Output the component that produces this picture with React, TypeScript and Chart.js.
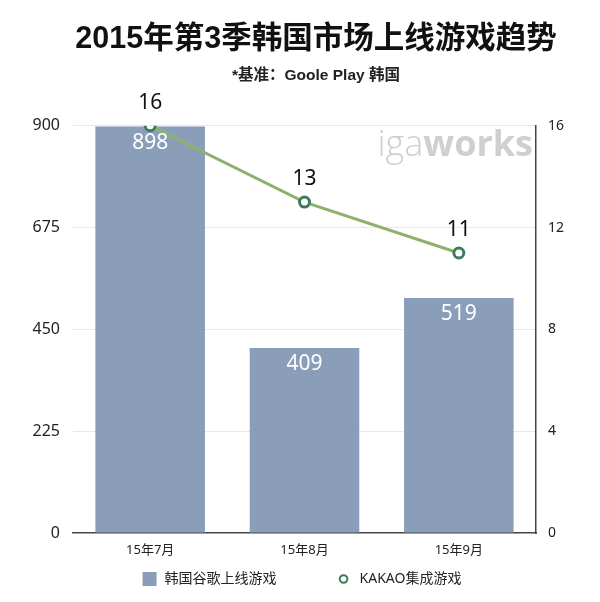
import React, { useEffect, useRef } from "react";
import { Chart, registerables } from "chart.js";

Chart.register(...registerables);

const categories = ["15年7月", "15年8月", "15年9月"];
const googlePlayGames = [898, 409, 519];
const kakaoGames = [16, 13, 11];
const leftTicks = [0, 225, 450, 675, 900];
const rightTicks = [0, 4, 8, 12, 16];
const titleText = "2015年第3季韩国市场上线游戏趋势";
const subtitleText = "*基准：Goole Play 韩国";
const barLabel = "韩国谷歌上线游戏";
const lineLabel = "KAKAO集成游戏";
const watermarkLight = "iga";
const watermarkBold = "works";

const BAR_COLOR = "#8a9eba";
const LINE_COLOR = "#8db36a";
const POINT_BORDER = "#3d7d5b";
const TEXT_COLOR = "#222";
const SANS = "'Noto Sans', 'Noto Sans CJK SC', sans-serif";
const TITLE_FONT = "'Liberation Sans', 'Noto Sans CJK SC', sans-serif";

const valueLabelsPlugin = {
  id: "valueLabels",
  afterDatasetsDraw(chart: any) {
    const ctx = chart.ctx;
    ctx.save();
    chart.data.datasets.forEach((ds: any, i: number) => {
      const meta = chart.getDatasetMeta(i);
      meta.data.forEach((el: any, j: number) => {
        const v = ds.data[j];
        ctx.textAlign = "center";
        ctx.textBaseline = "middle";
        ctx.font = `21px ${SANS}`;
        if (ds.type === "bar") {
          ctx.fillStyle = "#ffffff";
          ctx.fillText(String(v), el.x, el.y + 16);
        } else {
          ctx.fillStyle = "#111";
          ctx.fillText(String(v), el.x, el.y - 23);
        }
      });
    });
    ctx.restore();
  },
};

const watermarkPlugin = {
  id: "watermark",
  beforeDatasetsDraw(chart: any) {
    const ctx = chart.ctx;
    const { right, top } = chart.chartArea;
    ctx.save();
    ctx.fillStyle = "#cfcfcf";
    ctx.textBaseline = "alphabetic";
    ctx.textAlign = "left";
    const boldFont = `bold 36px 'Open Sans', ${SANS}`;
    const lightFont = `300 36px 'Open Sans', ${SANS}`;
    ctx.font = boldFont;
    const wb = ctx.measureText(watermarkBold).width;
    ctx.font = lightFont;
    const wl = ctx.measureText(watermarkLight).width;
    const x0 = right - 3 - wb - wl;
    const base = top + 30;
    ctx.fillText(watermarkLight, x0, base);
    ctx.font = boldFont;
    ctx.fillText(watermarkBold, x0 + wl, base);
    ctx.restore();
  },
};

const customLegendPlugin = {
  id: "customLegend",
  afterDraw(chart: any) {
    const ctx = chart.ctx;
    const { bottom } = chart.chartArea;
    const cy = bottom + 46;
    ctx.save();
    ctx.font = `14px ${SANS}`;
    const w1 = ctx.measureText(barLabel).width;
    const w2 = ctx.measureText(lineLabel).width;
    const box = 14;
    const gapText = 8;
    const gapItems = 62;
    const circleBox = 10;
    const total = box + gapText + w1 + gapItems + circleBox + 11 + w2;
    let x = chart.width / 2 + 2 - total / 2;
    ctx.fillStyle = BAR_COLOR;
    ctx.fillRect(x, cy - box / 2, box, box);
    x += box + gapText;
    ctx.fillStyle = TEXT_COLOR;
    ctx.textBaseline = "middle";
    ctx.textAlign = "left";
    ctx.fillText(barLabel, x, cy);
    x += w1 + gapItems;
    ctx.beginPath();
    ctx.arc(x + circleBox / 2, cy, 3.8, 0, Math.PI * 2);
    ctx.fillStyle = "#fff";
    ctx.fill();
    ctx.lineWidth = 2;
    ctx.strokeStyle = POINT_BORDER;
    ctx.stroke();
    x += circleBox + 11;
    ctx.fillStyle = TEXT_COLOR;
    ctx.fillText(lineLabel, x, cy);
    ctx.restore();
  },
};

export default function App() {
  const canvasRef = useRef<HTMLCanvasElement | null>(null);

  useEffect(() => {
    document.body.style.margin = "0";
    document.body.style.overflow = "hidden";
    const canvas = canvasRef.current;
    if (!canvas) return;
    const chart = new Chart(canvas, {
      type: "bar",
      data: {
        labels: categories,
        datasets: [
          {
            type: "line",
            label: lineLabel,
            data: kakaoGames,
            yAxisID: "y1",
            borderColor: LINE_COLOR,
            borderWidth: 3,
            pointRadius: 5,
            pointBorderWidth: 3,
            pointBackgroundColor: "#ffffff",
            pointBorderColor: POINT_BORDER,
            tension: 0,
            order: 0,
          } as any,
          {
            type: "bar",
            label: barLabel,
            data: googlePlayGames,
            yAxisID: "y",
            backgroundColor: BAR_COLOR,
            categoryPercentage: 1,
            barPercentage: 0.71,
            order: 1,
          } as any,
        ],
      },
      options: {
        responsive: false,
        animation: false,
        layout: { padding: { left: 32, right: 0, top: 0, bottom: 41 } },
        plugins: {
          legend: { display: false },
          tooltip: { enabled: false },
          title: {
            display: true,
            text: titleText,
            color: "#111",
            font: { size: 30.5, weight: "bold", family: TITLE_FONT },
            padding: { top: 21.5, bottom: 4 },
          },
          subtitle: {
            display: true,
            text: subtitleText,
            color: "#222",
            font: { size: 15.5, weight: "bold", family: TITLE_FONT },
            padding: { top: 4, bottom: 41 },
          },
        },
        scales: {
          x: {
            grid: { display: false, drawTicks: false },
            border: { display: true, color: "#444", width: 1.5 },
            ticks: { color: TEXT_COLOR, font: { size: 13, family: SANS }, padding: 9 },
            afterFit: (s: any) => {
              s.height = 28;
            },
          },
          y: {
            position: "left",
            min: 0,
            max: 900,
            afterBuildTicks: (s: any) => {
              s.ticks = leftTicks.map((v) => ({ value: v }));
            },
            grid: {
              drawTicks: false,
              color: (c: any) => (c.tick && c.tick.value === 0 ? "rgba(0,0,0,0)" : "#e8e8e8"),
              lineWidth: 1,
            },
            border: { display: false },
            ticks: { color: TEXT_COLOR, font: { size: 16, family: SANS }, padding: 13 },
            afterFit: (s: any) => {
              s.width = 41;
            },
          },
          y1: {
            position: "right",
            min: 0,
            max: 16,
            afterBuildTicks: (s: any) => {
              s.ticks = rightTicks.map((v) => ({ value: v }));
            },
            grid: { drawOnChartArea: false, drawTicks: false },
            border: { display: true, color: "#444", width: 1.5 },
            ticks: { color: TEXT_COLOR, font: { size: 14, family: SANS }, padding: 12 },
            afterFit: (s: any) => {
              s.width = 64;
            },
          },
        },
      } as any,
      plugins: [watermarkPlugin, valueLabelsPlugin, customLegendPlugin],
    });
    return () => chart.destroy();
  }, []);

  return (
    <div style={{ width: 600, height: 602, background: "#fff" }}>
      <canvas ref={canvasRef} width={600} height={602} />
    </div>
  );
}
